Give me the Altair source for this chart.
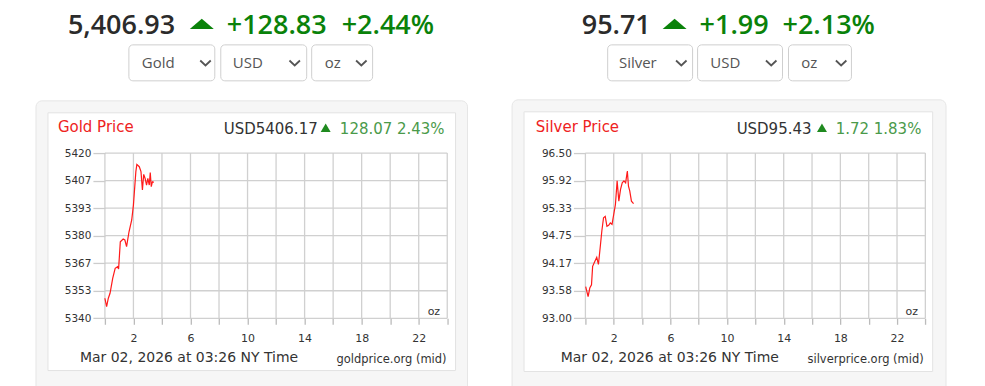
import altair as alt
import pandas as pd

# ---------------- data ----------------
gold_hours = [0.0, 0.12, 0.24, 0.36, 0.55, 0.72, 0.89, 0.96, 1.08, 1.28, 1.40, 1.52, 1.69, 1.88,
              2.00, 2.17, 2.24, 2.41, 2.53, 2.63, 2.72, 2.82, 2.92, 3.01, 3.11, 3.18, 3.25, 3.33, 3.43]
gold_prices = [5349.7, 5345.6, 5349.7, 5352.1, 5359.4, 5364.2, 5365.0, 5363.9, 5377.0, 5378.4,
               5377.9, 5374.7, 5381.9, 5387.6, 5394.8, 5411.0, 5414.5, 5413.4, 5411.0, 5402.1,
               5409.7, 5407.7, 5404.5, 5407.7, 5404.5, 5410.6, 5403.7, 5406.1, 5405.8]

silver_hours = [0.02, 0.19, 0.31, 0.43, 0.51, 0.67, 0.80, 0.92, 1.04, 1.16, 1.28, 1.40, 1.52, 1.64,
                1.76, 1.88, 2.00, 2.12, 2.24, 2.36, 2.48, 2.60, 2.72, 2.84, 2.96, 3.04, 3.13, 3.25, 3.40]
silver_prices = [93.67, 93.46, 93.64, 93.71, 94.10, 94.21, 94.29, 94.14, 94.49, 94.85, 95.13, 95.16,
                 94.95, 94.97, 95.02, 94.99, 95.20, 95.41, 95.91, 95.48, 95.73, 95.87, 95.91, 95.87,
                 96.12, 95.80, 95.70, 95.48, 95.43]

gold_y_ticks = [5340, 5353.333, 5366.667, 5380, 5393.333, 5406.667, 5420]
silver_y_ticks = [93.0, 93.5833, 94.1667, 94.75, 95.3333, 95.9167, 96.5]
x_ticks = [0, 2, 4, 6, 8, 10, 12, 14, 16, 18, 20, 22, 24]

gold_header = ["5,406.93", "+128.83", "+2.44%"]
silver_header = ["95.71", "+1.99", "+2.13%"]
gold_selects = ["Gold", "USD", "oz"]
silver_selects = ["Silver", "USD", "oz"]
gold_quote = ["Gold Price", "USD5406.17", "128.07 2.43%", "goldprice.org (mid)"]
silver_quote = ["Silver Price", "USD95.43", "1.72 1.83%", "silverprice.org (mid)"]
date_text = "Mar 02, 2026 at 03:26 NY Time"
unit_text = "oz"

# ---------------- styles ----------------
GREEN = "#0a820a"
DARK = "#333333"
RED = "#ee2222"
CHART_FONT = "DejaVu Sans"
HEAD_FONT = "Open Sans"
TRI_BIG = "M -1 0.42 L 0 -0.42 L 1 0.42 Z"
TRI_SMALL = "M -1 0.85 L 0 -0.85 L 1 0.85 Z"
CHEVRON = "M -1 -0.45 L 0 0.5 L 1 -0.45"

one = pd.DataFrame({"k": [0]})


def txt(s, x, y, size, color, align="left", font=CHART_FONT, weight="normal"):
    return alt.Chart(pd.DataFrame({"t": [s]})).mark_text(
        align=align, baseline="middle", font=font, fontSize=size, color=color, fontWeight=weight
    ).encode(text="t:N", x=alt.value(x), y=alt.value(y))


def box(x1, x2, y1, y2, fill, stroke=None, radius=0, opacity=1.0):
    kw = dict(fill=fill, cornerRadius=radius, opacity=opacity)
    if stroke:
        kw.update(stroke=stroke, strokeWidth=1)
    return alt.Chart(one).mark_rect(**kw).encode(
        x=alt.value(x1), x2=alt.value(x2), y=alt.value(y1), y2=alt.value(y2))


def sym(shape, x, y, size, color, filled=True, sw=1.0):
    kw = dict(shape=shape, size=size, filled=filled, opacity=1)
    if filled:
        kw.update(fill=color, strokeWidth=0)
    else:
        kw.update(stroke=color, strokeWidth=sw, fill="transparent")
    return alt.Chart(one).mark_point(**kw).encode(x=alt.value(x), y=alt.value(y))


def panel(hours, prices, yticks, yfmt, domain, width, lay, header, selects, quote):
    xs = alt.Scale(domain=[0, 24], nice=False, zero=False)
    ys = alt.Scale(domain=domain, nice=False, zero=False)
    xaxis = alt.Axis(
        values=x_ticks, labelExpr="datum.value % 4 == 2 ? datum.label : ''", title=None,
        grid=False, domain=False, tickSize=6, tickColor="#bbbbbb", tickWidth=1.3,
        labelPadding=8, labelFont=CHART_FONT, labelFontSize=11, labelColor=DARK,
        labelFlush=False, labelOverlap=False, zindex=1)
    yaxis = alt.Axis(
        values=yticks, format=yfmt, title=None, grid=False, domain=False, tickSize=12,
        tickColor="#cccccc", tickWidth=1.3, labelPadding=2, labelFont=CHART_FONT,
        labelFontSize=10.5, labelColor=DARK, labelFlush=False, labelOverlap=False, zindex=1)
    layers = [
        box(lay["bx"][0], lay["bx"][1], -144.3, 234, "white", opacity=0),
        box(*lay["panel"], "#f6f6f6", "#e6e6e6", 6),
        box(*lay["card"], "white", "#e3e3e3", 0),
    ]
    # header
    hy = -127.3
    layers += [
        txt(header[0], lay["num"], hy, 27, "#2b2b2b", font=HEAD_FONT, weight=600),
        sym(TRI_BIG, lay["tri"], -129.3, 576, GREEN),
        txt(header[1], lay["chg"], hy, 27, GREEN, font=HEAD_FONT, weight=600),
        txt(header[2], lay["pct"], hy, 27, GREEN, font=HEAD_FONT, weight=600),
    ]
    # selects
    for (x1, x2), tx, cx, label in zip(lay["sel"], lay["seltx"], lay["chev"], selects):
        layers += [
            box(x1, x2, -108.3, -72.3, "white", "#cfcfcf", 4),
            txt(label, tx, -90.3, 15, "#555555", font=HEAD_FONT),
            sym(CHEVRON, cx, -90.3, 110, "#555555", filled=False, sw=1.8),
        ]
    # grid
    gy = alt.Chart(pd.DataFrame({"price": yticks})).mark_rule(color="#d0d0d0", strokeWidth=1.3).encode(
        y=alt.Y("price:Q", scale=ys, axis=yaxis))
    gx = alt.Chart(pd.DataFrame({"hour": x_ticks})).mark_rule(color="#d0d0d0", strokeWidth=1.3).encode(
        x=alt.X("hour:Q", scale=xs, axis=xaxis))
    line = alt.Chart(pd.DataFrame({"hour": hours, "price": prices})).mark_line(
        color="#ff1a1a", strokeWidth=1.2).encode(
        x=alt.X("hour:Q", scale=xs, axis=xaxis),
        y=alt.Y("price:Q", scale=ys, axis=yaxis),
    )
    layers += [gy, gx, line]
    # quote texts
    layers += [
        txt(quote[0], lay["title"], -26.3, 15, RED),
        txt(quote[1], lay["usd"], -24.3, 15, DARK, align="right"),
        sym(TRI_SMALL, lay["stri"], -25.3, 100, "#1f8a1f"),
        txt(quote[2], lay["schg"], -24.3, 15, "#4a9a4a", align="right"),
        txt(unit_text, lay["oz"], 158.7, 11, DARK, align="center"),
        txt(date_text, lay["date"], 204.7, 14, DARK),
        txt(quote[3], lay["src"], 206.7, 11.5, DARK, align="right"),
    ]
    return alt.layer(*layers).properties(width=width, height=165.4)


gold_lay = dict(
    bx=(-97, 385), panel=(-69, 363, -52.3, 262), card=(-57, 351, -40.3, 217.7),
    num=-37, tri=97, chg=122, pct=237,
    sel=[(24, 110), (116, 202), (207, 268)], seltx=[37, 128, 220], chev=[100.7, 190, 256.7],
    title=-47, usd=213, stri=221, schg=340, oz=329.3, date=-25, src=342,
)
silver_lay = dict(
    bx=(-95.7, 391.3), panel=(-73.4, 361, -53.3, 262), card=(-61.4, 347.6, -41.3, 218.7),
    num=-3.7, tri=89.3, chg=114.3, pct=197.3,
    sel=[(22.3, 107.3), (112.3, 197.3), (203.3, 266.3)], seltx=[33.6, 125, 216], chev=[96, 186, 256],
    title=-49.7, usd=226.3, stri=236.8, schg=336.3, oz=326.6, date=-24.7, src=338.6,
)

gold = panel(gold_hours, gold_prices, gold_y_ticks, ".0f", [5340, 5420], 342.7, gold_lay,
             gold_header, gold_selects, gold_quote)
silver = panel(silver_hours, silver_prices, silver_y_ticks, ".2f", [93.0, 96.5], 340.3, silver_lay,
               silver_header, silver_selects, silver_quote)

chart = alt.hconcat(gold, silver, spacing=0).properties(padding=0).configure_view(strokeWidth=0)
chart.save("out.html", embed_options={"renderer": "svg", "actions": False})
